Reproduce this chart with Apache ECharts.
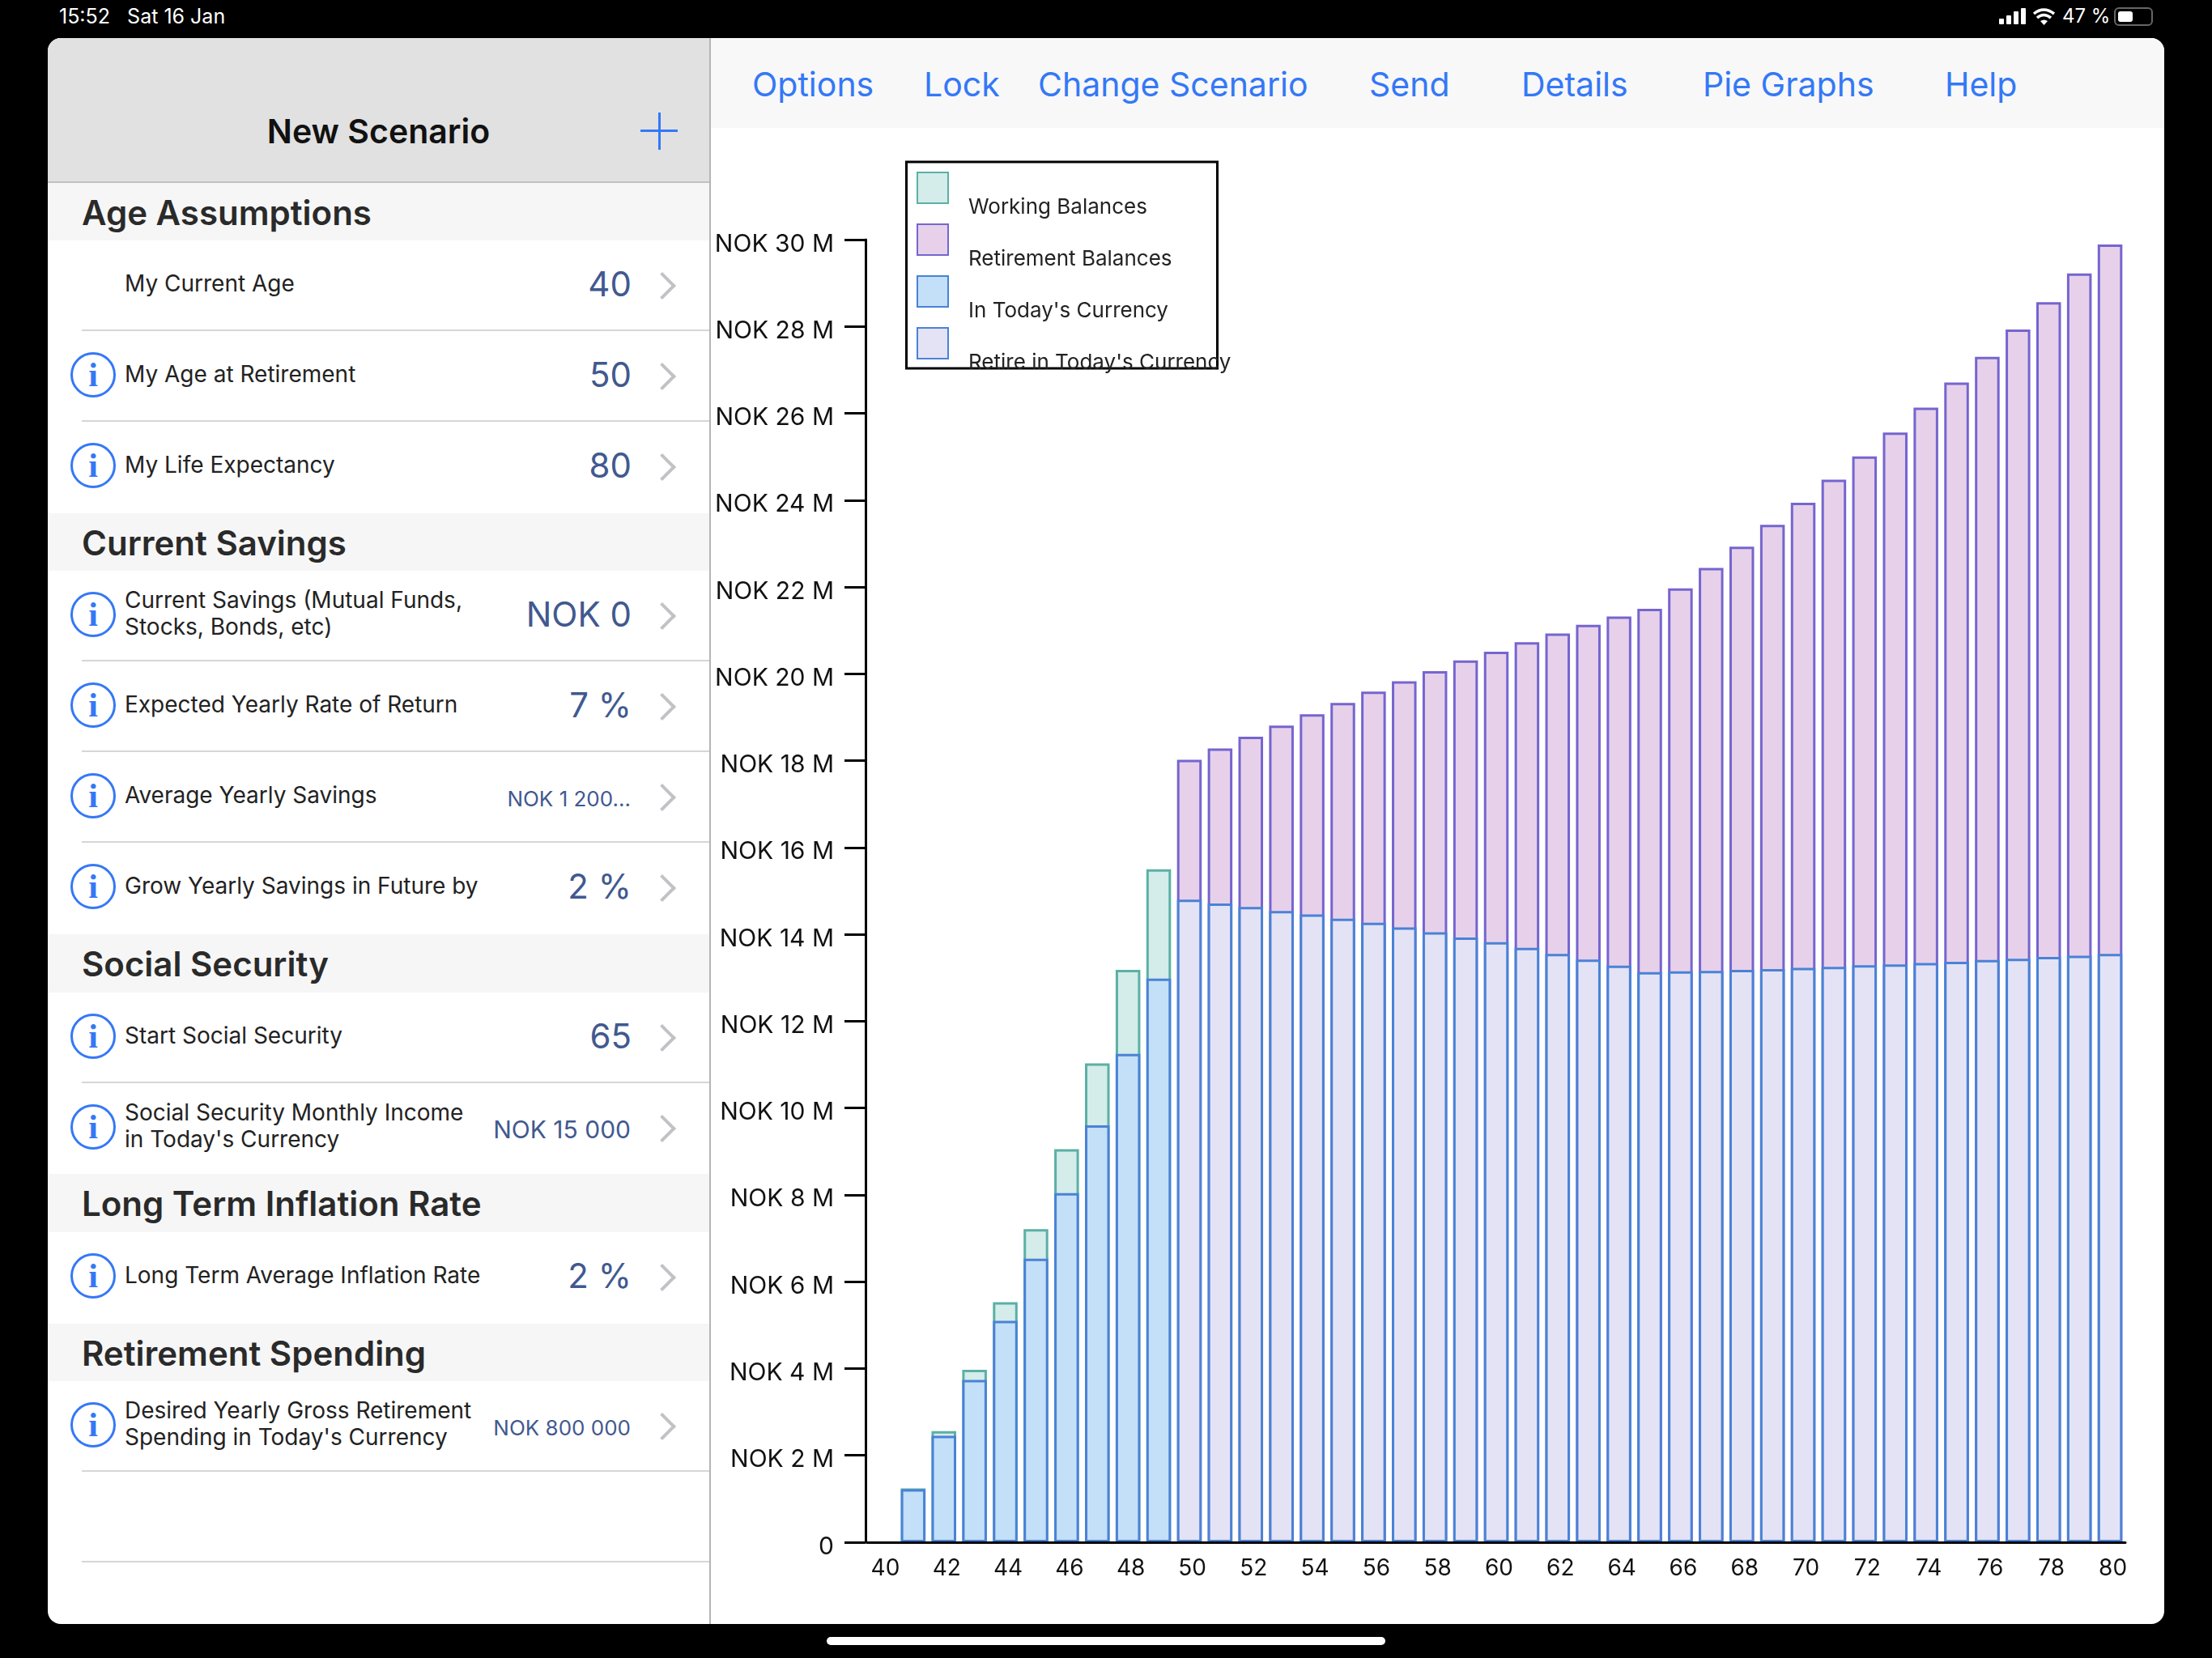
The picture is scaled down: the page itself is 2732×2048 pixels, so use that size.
<!DOCTYPE html>
<html lang="en">

<head>
    <meta charset="UTF-8">
    <title>New Scenario</title>
    <script src="https://cdn.jsdelivr.net/npm/echarts@6/dist/echarts.min.js"></script>
</head>

<style>
    body {
        margin: 0;
        width: 2732px;
        height: 2048px;
        background: #000;
        overflow: hidden;
        font-family: Inter, "Noto Sans", sans-serif;
        position: relative;
    }

    #status { position: absolute; left: 73px; top: 5px; color: #fff; font-size: 25px; line-height: 30px; white-space: pre; }
    #percent { position: absolute; left: 2547px; top: 5px; color: #fff; font-size: 24px; line-height: 30px; }
    #battery { position: absolute; left: 2611px; top: 9px; width: 44px; height: 19px; border: 2px solid #666; border-radius: 6px; }
    #battery div { position: absolute; left: 3px; top: 3px; width: 18px; height: 13px; background: #fff; border-radius: 3px; }
    #icons { position: absolute; left: 2468px; top: 8px; }

    #panel { position: absolute; left: 59px; top: 47px; width: 2614px; height: 1959px; background: #fff; border-radius: 16px; overflow: hidden; }
    #side { position: absolute; left: 0; top: 0; width: 817px; height: 100%; border-right: 2px solid #b5b5b5; }
    #head { height: 178.500px; background: #e1e1e1; border-bottom: 2px solid #c2c2c2; box-sizing: border-box; position: relative; }
    #head span { position: absolute; left: 0; width: 817px; text-align: center; top: 91px; font-size: 41px; line-height: 48px; font-weight: 600; color: #111; }
    #plusH { position: absolute; left: 732px; top: 113px; width: 46px; height: 3px; background: #3478f6; }
    #plusV { position: absolute; left: 754px; top: 92px; width: 3px; height: 46px; background: #3478f6; }

    .sec { height: 71.600px; background: #f6f6f6; padding-left: 42px; font-size: 42px; line-height: 73px; font-weight: 600; color: #2a2a2a; box-sizing: border-box; }
    .row + .sec { margin-top: 0.700px; }
    .row { height: 112px; position: relative; box-sizing: border-box; }
    .row.line:after { content: ""; position: absolute; left: 42px; right: 0; bottom: 0; height: 2px; background: #d6d6d6; }
    .lab { position: absolute; left: 95px; top: 50%; transform: translateY(calc(-50% - 3px)); font-size: 28px; line-height: 33px; color: #222; white-space: nowrap; }
    .val { position: absolute; right: 96px; top: 50%; transform: translateY(calc(-50% - 3px)); font-size: 42px; color: #41598f; white-space: nowrap; }
    .val.small { right: 97px; margin-top: 4px; }
    .info { position: absolute; left: 28px; top: 26px; width: 56px; height: 56px; box-sizing: border-box; border: 3px solid #3478f6; border-radius: 50%; color: #3478f6; font: bold 42px/50px "Liberation Serif", serif; text-align: center; }
    .chev { position: absolute; left: 747px; top: 44px; width: 20px; height: 20px; border-top: 4px solid #c2c2c6; border-right: 4px solid #c2c2c6; transform: rotate(45deg); }

    #tools { position: absolute; left: 819px; top: 0; right: 0; height: 111px; background: #f8f8f8; }
    #tools span { position: absolute; top: 30px; font-size: 41px; line-height: 54px; color: #3478f6; }

    #home { position: absolute; left: 1021px; top: 2022px; width: 690px; height: 10px; background: #fff; border-radius: 5px; }
    #chart { position: absolute; left: 0; top: 0; width: 2732px; height: 2048px; }
</style>

<body>
    <div id="status">15:52   Sat 16 Jan</div>
    <svg id="icons" width="72" height="26">
        <rect x="1" y="15" width="6" height="7" rx="1" fill="#fff" />
        <rect x="10" y="11" width="6" height="11" rx="1" fill="#fff" />
        <rect x="19" y="6" width="6" height="16" rx="1" fill="#fff" />
        <rect x="28" y="2" width="6" height="20" rx="1" fill="#fff" />
        <path d="M44 9 Q56 -1 69 9 M48 14 Q56 7 65 14" fill="none" stroke="#fff" stroke-width="3.5" />
        <path d="M52 18 L56.500 23 L61 18 Q56.500 15 52 18" fill="#fff" />
    </svg>
    <div id="percent">47 %</div>
    <div id="battery"><div></div></div>

    <div id="panel">
        <div id="side">
            <div id="head"><span>New Scenario</span><div id="plusH"></div><div id="plusV"></div></div>

            <div class="sec">Age Assumptions</div>
            <div class="row line"><div class="lab">My Current Age</div><div class="val">40</div><div class="chev"></div></div>
            <div class="row line"><div class="info">i</div><div class="lab">My Age at Retirement</div><div class="val">50</div><div class="chev"></div></div>
            <div class="row"><div class="info">i</div><div class="lab">My Life Expectancy</div><div class="val">80</div><div class="chev"></div></div>

            <div class="sec">Current Savings</div>
            <div class="row line"><div class="info">i</div><div class="lab">Current Savings (Mutual Funds,<br>Stocks, Bonds, etc)</div><div class="val">NOK 0</div><div class="chev"></div></div>
            <div class="row line"><div class="info">i</div><div class="lab">Expected Yearly Rate of Return</div><div class="val">7 %</div><div class="chev"></div></div>
            <div class="row line"><div class="info">i</div><div class="lab">Average Yearly Savings</div><div class="val small" style="font-size:26px">NOK 1 200...</div><div class="chev"></div></div>
            <div class="row"><div class="info">i</div><div class="lab">Grow Yearly Savings in Future by</div><div class="val">2 %</div><div class="chev"></div></div>

            <div class="sec">Social Security</div>
            <div class="row line"><div class="info">i</div><div class="lab">Start Social Security</div><div class="val">65</div><div class="chev"></div></div>
            <div class="row"><div class="info">i</div><div class="lab">Social Security Monthly Income<br>in Today's Currency</div><div class="val small" style="font-size:30px">NOK 15 000</div><div class="chev"></div></div>

            <div class="sec">Long Term Inflation Rate</div>
            <div class="row"><div class="info">i</div><div class="lab">Long Term Average Inflation Rate</div><div class="val">2 %</div><div class="chev"></div></div>

            <div class="sec">Retirement Spending</div>
            <div class="row line"><div class="info">i</div><div class="lab">Desired Yearly Gross Retirement<br>Spending in Today's Currency</div><div class="val small" style="font-size:26px">NOK 800 000</div><div class="chev"></div></div>
            <div class="row line"></div>
        </div>

        <div id="tools">
            <span style="left:51px">Options</span>
            <span style="left:263px">Lock</span>
            <span style="left:404px">Change Scenario</span>
            <span style="left:813px">Send</span>
            <span style="left:1001px">Details</span>
            <span style="left:1225px">Pie Graphs</span>
            <span style="left:1524px">Help</span>
        </div>
    </div>

    <div id="home"></div>
    <div id="chart"></div>
</body>

</html>

<script>
    // values in millions of NOK
    let ages = [40, 41, 42, 43, 44, 45, 46, 47, 48, 49, 50, 51, 52, 53, 54, 55, 56, 57, 58, 59, 60,
        61, 62, 63, 64, 65, 66, 67, 68, 69, 70, 71, 72, 73, 74, 75, 76, 77, 78, 79, 80];

    let workingBalances = [null, 1.24, 2.56, 3.97, 5.53, 7.21, 9.05, 11.03, 13.18, 15.5];
    let todayCurrency = [null, 1.22, 2.45, 3.74, 5.1, 6.53, 8.04, 9.6, 11.25, 12.98];

    // ages 50 to 80
    let retirementBalances = [18.02, 18.28, 18.55, 18.81, 19.07, 19.33, 19.59, 19.83, 20.06, 20.31,
        20.51, 20.73, 20.93, 21.13, 21.32, 21.5, 21.97, 22.44, 22.93, 23.43,
        23.94, 24.47, 25.01, 25.56, 26.13, 26.71, 27.3, 27.93, 28.56, 29.22, 29.89];
    let retireToday = [14.8, 14.71, 14.63, 14.54, 14.46, 14.36, 14.27, 14.16, 14.05, 13.93,
        13.82, 13.69, 13.55, 13.42, 13.28, 13.13, 13.15, 13.16, 13.18, 13.2,
        13.23, 13.25, 13.29, 13.31, 13.34, 13.37, 13.41, 13.44, 13.48, 13.51, 13.55];

    let blanks = new Array(10).fill(null);

    let fontName = "Inter";

    function barSeries(name, data, fill, line) {
        return {
            name: name,
            type: "bar",
            data: data,
            barWidth: 30.5,
            barGap: "-100%",
            itemStyle: { color: fill, borderColor: line, borderWidth: 3 },
        };
    }

    var myChart = echarts.init(document.getElementById("chart"));

    option = {
        animation: false,
        backgroundColor: "transparent",
        grid: { left: 1071, right: 107, top: 296, bottom: 143 },
        graphic: [{
            type: "rect",
            z: 1,
            shape: { x: 1119.5, y: 200, width: 384, height: 255 },
            style: { fill: "none", stroke: "#000", lineWidth: 3 },
        }],
        legend: {
            data: ["Working Balances", "Retirement Balances", "In Today's Currency", "Retire in Today's Currency"],
            orient: "vertical",
            align: "left",
            left: 1132,
            top: 212,
            padding: 0,
            itemWidth: 38,
            itemHeight: 38,
            itemGap: 7,
            icon: "rect",
            selectedMode: false,
            formatter: "{t|{name}}",
            textStyle: {
                rich: {
                    t: {
                        fontFamily: fontName,
                        fontSize: 26,
                        color: "#222",
                        padding: [48, 0, 0, 20],
                    },
                },
            },
        },
        xAxis: {
            type: "category",
            data: ages,
            z: 5,
            axisLine: { lineStyle: { color: "#000", width: 3 } },
            axisTick: { show: false },
            axisLabel: {
                interval: 1,
                margin: 19,
                formatter: "{t|{value}}",
                rich: {
                    t: {
                        fontFamily: fontName,
                        fontSize: 28,
                        color: "#111",
                        padding: [0, 0, 0, 7],
                    },
                },
            },
        },
        yAxis: {
            type: "value",
            min: 0,
            max: 30,
            interval: 2,
            offset: 2,
            splitLine: { show: false },
            axisLine: { show: true, lineStyle: { color: "#000", width: 3 } },
            axisTick: { show: true, length: 26, lineStyle: { color: "#000", width: 3 } },
            axisLabel: {
                margin: 39,
                formatter: function (v) {
                    return "{t|" + (v === 0 ? "0" : "NOK " + v + " M") + "}";
                },
                rich: {
                    t: {
                        fontFamily: fontName,
                        fontSize: 30,
                        color: "#111",
                        padding: [11, 0, 0, 0],
                    },
                },
            },
        },
        series: [
            barSeries("Working Balances", workingBalances, "#d4ecea", "#5bb0a4"),
            barSeries("Retirement Balances", blanks.concat(retirementBalances), "#e7d1ea", "#7565cf"),
            barSeries("In Today's Currency", todayCurrency, "#c3e0f8", "#4a82d6"),
            barSeries("Retire in Today's Currency", blanks.concat(retireToday), "#e4e3f6", "#4a82d6"),
        ],
    };

    myChart.setOption(option);
</script>
